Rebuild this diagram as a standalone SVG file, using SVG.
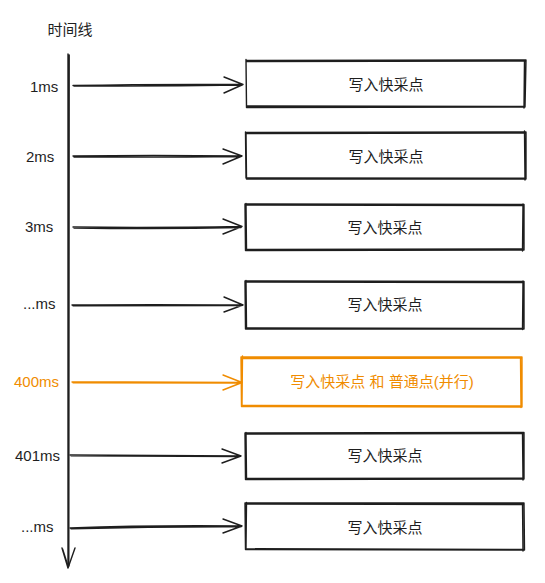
<svg xmlns="http://www.w3.org/2000/svg" width="545" height="583" viewBox="0 0 545 583">
<defs>
<style>
text{font-family:"Liberation Sans","Noto Sans CJK SC",sans-serif;font-size:15px;fill:#1e1e1e;dominant-baseline:central}
.c{text-anchor:middle}
.o{fill:#f08c00}
.s{fill:none;stroke:#1e1e1e;stroke-width:1.4;stroke-linecap:round;stroke-linejoin:round}
.so{fill:none;stroke:#f08c00;stroke-width:1.4;stroke-linecap:round;stroke-linejoin:round}
</style>
</defs>
<rect width="545" height="583" fill="#ffffff"/>
<text x="70" y="29" class="c">时间线</text>
<g id="timeline">
<path class="s" d="M68 54 Q68.5 300 68 567 M69.2 55 Q69.6 300 68.8 566"/>
<path class="s" d="M62 548 L68 568 L75 548 M62.6 549 L68.3 567"/>
</g>
<g id="labels">
<text x="30" y="86">1ms</text>
<text x="26" y="156">2ms</text>
<text x="25" y="226">3ms</text>
<text x="23" y="303">...ms</text>
<text x="14" y="381" class="o">400ms</text>
<text x="15" y="455">401ms</text>
<text x="21" y="526">...ms</text>
</g>
<g id="connectors">
<path class="s" d="M73 85.5 Q150 84 243 84.5 M74 86 Q160 86.5 242 85 M224 77 L243 84.5 L224 93"/>
<path class="s" d="M73 156 Q150 155 242 156 M74 157 Q160 157.5 241 156.5 M223 149 L242 156 L223 164"/>
<path class="s" d="M73 227 Q150 228 242 226.5 M74 228 Q160 229.5 241 227.5 M223 219 L242 226.5 L223 234"/>
<path class="s" d="M72 305 Q150 304.5 243 305 M73 305.8 Q160 305.5 242 305.6 M224 297 L243 305 L224 312"/>
<path class="so" d="M72 382 Q150 381.5 242 382.5 M73 382.8 Q160 383 241 383 M223 375 L242 382.5 L223 390"/>
<path class="s" d="M70 455 Q150 455.5 241 456 M71 455.8 Q160 456.5 240 456.6 M222 449 L241 456 L222 463"/>
<path class="s" d="M70 528 Q150 525 242 526 M71 528.8 Q160 526.5 241 526.8 M223 519 L242 526 L223 533"/>
</g>
<g id="node1">
<path class="s" d="M246 60.5 L526 60 L525 107 L246.5 107.5 Z M247 61.5 L525.5 61 M246 59.5 L246.5 106 M524.5 60 L524 108 M247 106 L525 106.5"/>
<text x="386" y="84" class="c">写入快采点</text>
</g>
<g id="node2">
<path class="s" d="M246 132.5 L526 132 L526 179 L246.5 179 Z M247 133.5 L525 133 M245.5 132 L246 178 M524.5 131 L525 180 M247 178 L525 178.3"/>
<text x="386" y="156" class="c">写入快采点</text>
</g>
<g id="node3">
<path class="s" d="M245 204 L524 204.5 L524 250 L245.5 250.5 Z M246 205 L523 205.5 M246 203.5 L246.5 249 M523 204 L522.5 251 M246 249.5 L523 249"/>
<text x="385" y="227" class="c">写入快采点</text>
</g>
<g id="node4">
<path class="s" d="M245 281 L524 281.5 L524 329 L245.5 329 Z M246 282 L523 282.5 M246 280.5 L246.5 328 M523 281 L522.5 329.5 M246 328 L523 328.5"/>
<text x="385" y="304" class="c">写入快采点</text>
</g>
<g id="node5">
<path class="so" d="M241 357 L522 357 L522 407 L241.5 406.5 Z M242 358.5 L521 358 M242.5 356 L242 405 M520.5 357 L521 407.5 M242 405.5 L521 406"/>
<text x="382" y="381" class="c o">写入快采点 和 普通点(并行)</text>
</g>
<g id="node6">
<path class="s" d="M245 433 L524 432.5 L524 479 L245.5 479.5 Z M246 434 L523 433.5 M246 432.5 L246.5 478 M522.5 433 L523 480 M246 478.5 L523 478.3"/>
<text x="385" y="455" class="c">写入快采点</text>
</g>
<g id="node7">
<path class="s" d="M245 503 L524 503 L524.5 550 L245.5 549.5 Z M246 504 L523 504.5 M246.5 502.5 L246 548 M522.5 503 L523 551 M246 548.8 L523 549.5"/>
<text x="385" y="527" class="c">写入快采点</text>
</g>
</svg>
